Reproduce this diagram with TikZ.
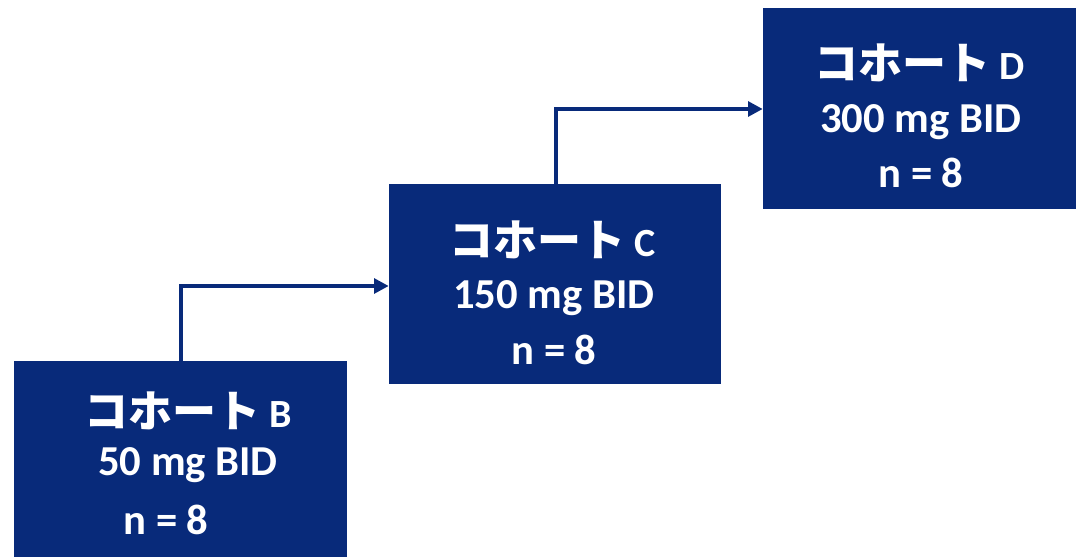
\documentclass[tikz,border=0pt]{standalone}
\usepackage{fontspec}
\setmainfont{Carlito}
\newfontfamily\jp{Noto Sans CJK JP}
\usetikzlibrary{arrows.meta}
\definecolor{navy}{HTML}{082A7A}
\newcommand\kohort{{\jp\bfseries\fontsize{33}{33}\selectfont コホート}}
\begin{document}
\begin{tikzpicture}[x=0.75pt,y=-0.75pt,
  box/.style={fill=navy,draw=none,inner sep=0},
  txt/.style={text=white,font=\bfseries\fontsize{32}{34}\selectfont,inner sep=0,anchor=center},
  jtxt/.style={text=white,font=\bfseries\fontsize{30}{32}\selectfont,inner sep=0,anchor=center},
  conn/.style={navy,line width=2.8pt,-{Triangle[length=11pt,width=11pt]}}]
\useasboundingbox (0,0) rectangle (1076,557);
% boxes
\node[box,minimum width=333*0.75pt,minimum height=196*0.75pt] (B) at (180.5,459) {};
\node[box,minimum width=332*0.75pt,minimum height=200*0.75pt] (C) at (555,284) {};
\node[box,minimum width=313*0.75pt,minimum height=201*0.75pt] (D) at (919.5,108.5) {};
% texts
\node[jtxt] (B1) at (188,411) {\kohort{} B};
\node[txt] (B2) at (188,465) {50 mg BID};
\node[txt] (B3) at (166,520) {n = 8};
\node[jtxt] (C1) at (553,240) {\kohort{} C};
\node[txt] (C2) at (554,298) {150 mg BID};
\node[txt] (C3) at (554,350) {n = 8};
\node[jtxt] (D1) at (920,63) {\kohort{} D};
\node[txt] (D2) at (921,122) {300 mg BID};
\node[txt] (D3) at (921,173) {n = 8};
% connectors
\coordinate (b1) at (181,286);
\coordinate (c1) at (556,109);
\draw[conn] (B.north -| b1) -- (b1) -- (b1 -| C.west);
\draw[conn] (C.north -| c1) -- (c1) -- (c1 -| D.west);
\end{tikzpicture}
\end{document}
